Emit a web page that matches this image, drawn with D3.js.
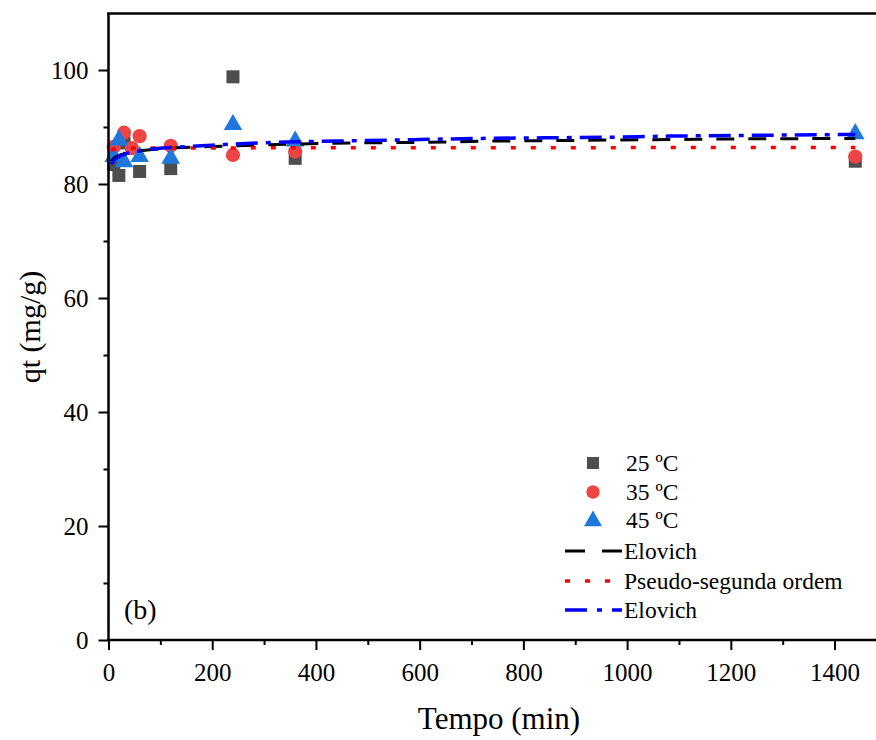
<!DOCTYPE html>
<html><head><meta charset="utf-8">
<script src="https://cdn.jsdelivr.net/npm/d3@7"></script>
<style>body{margin:0;background:#fff}svg{display:block}</style>
</head><body>
<script>
// ---- data ----
const t25 = [10, 20, 30, 60, 120, 240, 360, 1440];
const q25 = [83.4, 81.5, 87.2, 82.2, 82.7, 98.8, 84.5, 84.0];
const t35 = [10, 30, 45, 60, 120, 240, 360, 1440];
const q35 = [86.5, 89.0, 86.3, 88.4, 86.7, 85.1, 85.7, 84.8];
const t45 = [10, 20, 30, 60, 120, 240, 360, 1440];
const q45 = [84.8, 87.7, 83.9, 84.8, 84.5, 90.4, 87.5, 88.8];

const fitT = [5, 10, 20, 30, 45, 60, 90, 120, 180, 240, 360, 480, 600, 720, 840, 960, 1080, 1200, 1320, 1440];
const elovich25 = [84.0, 84.5, 85.0, 85.3, 85.6, 85.8, 86.1, 86.3, 86.5, 86.7, 87.0, 87.2, 87.3, 87.5, 87.6, 87.7, 87.8, 87.9, 87.95, 88.0];
const pso35 = [85.9, 86.1, 86.2, 86.25, 86.28, 86.3, 86.3, 86.3, 86.32, 86.33, 86.35, 86.35, 86.36, 86.37, 86.38, 86.38, 86.39, 86.4, 86.4, 86.4];
const elovich45 = [83.5, 84.1, 84.8, 85.2, 85.6, 85.8, 86.2, 86.4, 86.7, 87.0, 87.4, 87.6, 87.8, 88.0, 88.1, 88.2, 88.4, 88.5, 88.6, 88.7];

const xTicks = [0, 200, 400, 600, 800, 1000, 1200, 1400];
const yTicks = [0, 20, 40, 60, 80, 100];
const legendLabels = ["25 ºC", "35 ºC", "45 ºC", "Elovich", "Pseudo-segunda ordem", "Elovich"];

// ---- layout ----
const W = 876, H = 740;
const svg = d3.select("body").append("svg").attr("width", W).attr("height", H);
const x = d3.scaleLinear().domain([0, 1500]).range([108.5, 108.5 + 1500 * 0.5186]);
const y = d3.scaleLinear().domain([0, 110]).range([640, 13]);
const FONT = "'Liberation Serif', 'Times New Roman', serif";

// markers
const colSq = "#4d4d4d", colCi = "#ef4444", colTr = "#1f77dd";
const sq = d3.symbol().type(d3.symbolSquare).size(169);
const ci = d3.symbol().type(d3.symbolCircle).size(160);
const tr = d3.symbol().type(d3.symbolTriangle).size(150);

const g = svg.append("g");
g.selectAll(".s25").data(t25.map((t, i) => [t, q25[i]])).join("path")
  .attr("d", sq).attr("fill", colSq).attr("transform", d => `translate(${x(d[0])},${y(d[1])})`);
g.selectAll(".s35").data(t35.map((t, i) => [t, q35[i]])).join("path")
  .attr("d", ci).attr("fill", colCi).attr("transform", d => `translate(${x(d[0])},${y(d[1])})`);
g.selectAll(".s45").data(t45.map((t, i) => [t, q45[i]])).join("path")
  .attr("d", tr).attr("fill", colTr).attr("transform", d => `translate(${x(d[0])},${y(d[1])})`);

// fit lines
const line = d3.line().x(d => x(d[0])).y(d => y(d[1])).curve(d3.curveMonotoneX);
const lineStyles = [
  {vals: elovich25, color: "#000000", dash: "18,14", w: 3},
  {vals: pso35, color: "#ff0000", dash: "5,15", w: 3.5},
  {vals: elovich45, color: "#0000ff", dash: "22,8,5,8", w: 3.5}
];
lineStyles.forEach(s => {
  g.append("path").datum(fitT.map((t, i) => [t, s.vals[i]]))
    .attr("d", line).attr("fill", "none").attr("stroke", s.color)
    .attr("stroke-width", s.w).attr("stroke-dasharray", s.dash);
});

// axes
const xAxisG = svg.append("g").attr("transform", "translate(0,640)")
  .call(d3.axisBottom(x).tickValues(xTicks).tickSize(10).tickPadding(13).tickFormat(d3.format("d")));
const xMinor = svg.append("g").attr("transform", "translate(0,640)")
  .call(d3.axisBottom(x).tickValues(d3.range(100, 1500, 200)).tickSize(5).tickFormat(""));
const yAxisG = svg.append("g").attr("transform", "translate(108.5,0)")
  .call(d3.axisLeft(y).tickValues(yTicks).tickSize(10).tickPadding(10));
const yMinor = svg.append("g").attr("transform", "translate(108.5,0)")
  .call(d3.axisLeft(y).tickValues(d3.range(10, 110, 20)).tickSize(5).tickFormat(""));
[xAxisG, xMinor, yAxisG, yMinor].forEach(a => {
  a.select(".domain").remove();
  a.selectAll("line").attr("stroke", "#000").attr("stroke-width", 2);
  a.selectAll("text").attr("font-family", FONT).attr("font-size", 25).attr("fill", "#000");
});
// axis lines (left, bottom, top)
svg.append("line").attr("x1", 108.5).attr("x2", 108.5).attr("y1", 13).attr("y2", 641).attr("stroke", "#000").attr("stroke-width", 2.5);
svg.append("line").attr("x1", 107).attr("x2", W).attr("y1", 640).attr("y2", 640).attr("stroke", "#000").attr("stroke-width", 2.5);
svg.append("line").attr("x1", 107).attr("x2", W).attr("y1", 13.5).attr("y2", 13.5).attr("stroke", "#000").attr("stroke-width", 2.5);

// titles
svg.append("text").attr("x", 499).attr("y", 729).attr("text-anchor", "middle")
  .attr("font-family", FONT).attr("font-size", 31).text("Tempo (min)");
svg.append("text").attr("transform", "translate(40,327) rotate(-90)").attr("text-anchor", "middle")
  .attr("font-family", FONT).attr("font-size", 30).text("qt (mg/g)");
svg.append("text").attr("x", 124).attr("y", 619).attr("font-family", FONT).attr("font-size", 28).text("(b)");

// legend
const lg = svg.append("g");
const ly = [463, 492, 520, 551, 581, 610];
lg.append("path").attr("d", d3.symbol().type(d3.symbolSquare).size(144)).attr("fill", colSq).attr("transform", `translate(593,${ly[0]})`);
lg.append("path").attr("d", d3.symbol().type(d3.symbolCircle).size(140)).attr("fill", colCi).attr("transform", `translate(593,${ly[1]})`);
lg.append("path").attr("d", d3.symbol().type(d3.symbolTriangle).size(140)).attr("fill", colTr).attr("transform", `translate(593,${ly[2]+1})`);
lineStyles.forEach((s, i) => {
  lg.append("line").attr("x1", 565).attr("x2", 622).attr("y1", ly[3 + i]).attr("y2", ly[3 + i])
    .attr("stroke", s.color).attr("stroke-width", s.w).attr("stroke-dasharray", i === 0 ? "20,17" : (i === 1 ? "5,15" : "22,10,5,10"));
});
legendLabels.forEach((l, i) => {
  lg.append("text").attr("x", i < 3 ? 626 : 624).attr("y", ly[i]).attr("dy", "0.35em")
    .attr("font-family", FONT).attr("font-size", 23.5).text(l);
});
</script>
</body></html>
